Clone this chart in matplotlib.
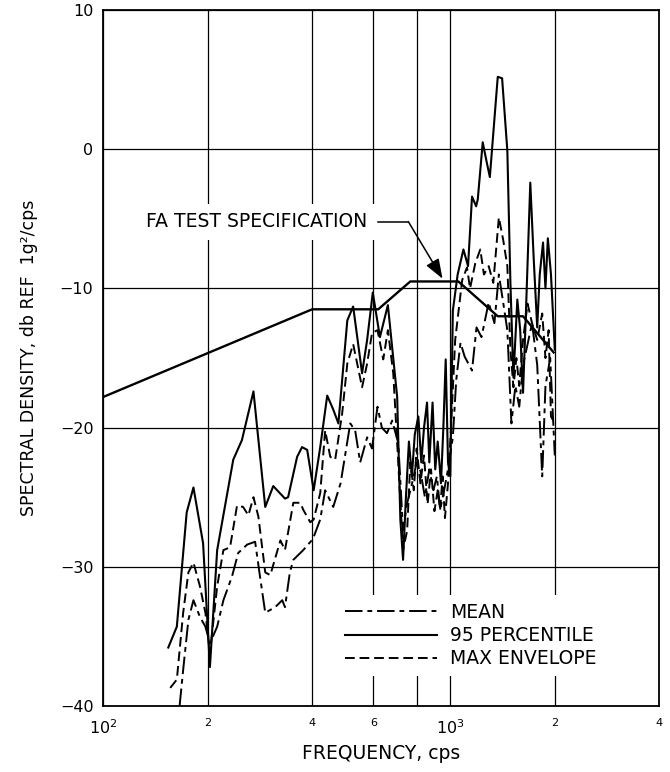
import matplotlib.pyplot as plt

# FA test specification (straight segments)
spec_freq = [100, 400, 620, 767, 1055, 1370, 1620, 1985]
spec_db = [-17.8, -11.5, -11.5, -9.5, -9.5, -12.0, -12.0, -14.6]

# 95 percentile
p95_freq = [154, 163, 174, 182, 194, 203, 213, 237, 251, 271, 293, 309, 334, 341,
            362, 374, 387, 404, 422, 442, 460, 476, 505, 525, 557, 576, 598, 627,
            661, 703, 718, 731, 745, 760, 775, 790, 809, 825, 840, 857, 870, 889,
            905, 920, 940, 955, 970, 985, 1000, 1017, 1050, 1091, 1125, 1155, 1187,
            1200, 1240, 1270, 1300, 1370, 1410, 1460, 1490, 1520, 1560, 1590, 1620,
            1650, 1700, 1740, 1780, 1810, 1850, 1880, 1910, 1950, 2000]
p95_db = [-35.8, -34.3, -26.1, -24.3, -28.3, -37.2, -28.8, -22.3, -20.9, -17.4, -25.7,
          -24.2, -25.1, -25.0, -22.1, -21.4, -21.6, -24.5, -21.4, -17.7, -18.7, -19.7,
          -12.3, -11.3, -16.1, -13.7, -10.3, -13.5, -11.2, -17.8, -26.6, -29.5, -25.0,
          -21.0, -23.5, -20.5, -19.2, -22.5, -20.0, -18.2, -22.5, -18.2, -23.0, -21.0,
          -24.0, -20.0, -15.1, -22.5, -23.5, -11.6, -9.0, -7.2, -8.4, -3.4, -4.1, -3.6,
          0.5, -0.8, -2.0, 5.2, 5.1, -0.1, -9.6, -16.4, -10.8, -13.0, -17.5, -12.0,
          -2.4, -8.0, -12.8, -9.0, -6.7, -10.0, -6.4, -9.0, -14.4]

# max envelope
max_freq = [156, 163, 170, 176, 182, 190, 197, 203, 213, 222, 232, 243, 253, 262, 271,
            280, 293, 303, 324, 334, 353, 370, 377, 395, 404, 422, 436, 451, 466, 488,
            505, 525, 557, 576, 595, 617, 641, 661, 685, 708, 731, 751, 767, 785, 800,
            820, 840, 860, 880, 900, 920, 935, 950, 965, 985, 1000, 1033, 1082, 1117,
            1140, 1180, 1220, 1250, 1290, 1330, 1380, 1420, 1460, 1490, 1520, 1550,
            1580, 1620, 1670, 1720, 1780, 1840, 1880, 1920, 1950, 2000]
max_db = [-38.7, -38.1, -33.3, -30.4, -29.7, -31.4, -33.3, -36.2, -31.4, -28.8, -28.6,
          -25.6, -25.7, -26.3, -25.0, -26.4, -30.4, -30.6, -28.1, -28.8, -25.4, -25.4,
          -25.9, -26.8, -26.6, -24.7, -20.2, -22.1, -22.3, -19.0, -15.4, -14.0, -17.1,
          -15.4, -13.2, -13.0, -15.1, -13.0, -16.1, -22.5, -28.8, -27.4, -22.5, -24.5,
          -21.5, -24.0, -22.0, -25.5, -23.0, -26.0, -24.5, -25.9, -23.5, -26.5, -24.0,
          -21.0, -13.7, -9.4, -8.5, -10.0, -8.2, -7.2, -9.0, -8.4, -9.6, -4.9, -6.5,
          -8.4, -14.4, -17.1, -15.0, -17.0, -13.7, -11.1, -12.5, -13.7, -11.8, -15.0,
          -13.0, -19.2, -19.7]

# mean
mean_freq = [166, 170, 176, 182, 190, 197, 203, 213, 222, 235, 245, 260, 274, 283, 293,
             313, 328, 334, 345, 353, 377, 402, 422, 436, 460, 483, 515, 532, 550, 576,
             595, 617, 635, 657, 680, 708, 731, 750, 776, 800, 820, 845, 870, 894, 915,
             935, 960, 980, 1017, 1040, 1070, 1100, 1155, 1190, 1230, 1290, 1340, 1380,
             1420, 1460, 1500, 1540, 1580, 1620, 1670, 1720, 1780, 1840, 1880, 1940, 2000]
mean_db = [-40.0, -37.4, -33.8, -32.4, -33.6, -34.3, -35.5, -34.3, -32.4, -30.7, -29.0,
           -28.4, -28.2, -30.7, -33.3, -32.9, -32.4, -32.9, -30.4, -29.5, -28.8, -28.0,
           -26.6, -24.5, -25.7, -24.0, -19.7, -20.2, -22.5, -20.7, -21.5, -18.5, -20.0,
           -20.4, -19.5, -21.1, -27.4, -25.5, -24.0, -22.5, -23.1, -25.0, -23.0, -24.5,
           -23.5, -25.9, -24.5, -23.3, -20.7, -16.6, -13.9, -14.9, -15.9, -12.8, -13.5,
           -11.0, -12.5, -9.0, -11.0, -13.0, -19.7, -17.0, -18.5, -15.5, -14.0, -12.5,
           -15.5, -23.5, -17.0, -15.0, -22.0]

xtick_pos = [100, 200, 400, 600, 800, 1000, 2000, 4000]
xtick_lab = ['10$^2$', '2', '4', '6', '', '10$^3$', '2', '4']
ytick_pos = [-40, -30, -20, -10, 0, 10]

fig = plt.figure(figsize=(6.7, 7.72), dpi=100)
ax = fig.add_axes([0.154, 0.0855, 0.830, 0.9015])

ax.set_xscale('log')
ax.set_xlim(100, 4000)
ax.set_ylim(-40, 10)

ax.plot(spec_freq, spec_db, color='black', lw=1.7, zorder=3)
ax.plot(mean_freq, mean_db, color='black', lw=1.4, ls=(0, (9, 2.5, 2.5, 2.5)),
        label='MEAN', zorder=3)
ax.plot(p95_freq, p95_db, color='black', lw=1.5, label='95 PERCENTILE', zorder=3)
ax.plot(max_freq, max_db, color='black', lw=1.4, ls=(0, (5, 2.5)),
        label='MAX ENVELOPE', zorder=3)

# ticks and grid
ax.set_xticks(xtick_pos)
ax.set_xticklabels(xtick_lab)
ax.minorticks_off()
ax.set_yticks(ytick_pos)
ax.set_yticklabels([str(v).replace('-', '\u2212') for v in ytick_pos])
ax.tick_params(length=0, labelsize=11.5)
ax.tick_params(axis='x', pad=9)
ax.tick_params(axis='y', pad=7)
for lab in ax.get_xticklabels():
    if lab.get_text() in ('2', '4', '6'):
        lab.set_fontsize(8)
    else:
        lab.set_fontsize(11.5)
ax.grid(True, color='black', lw=0.9, zorder=1)
for sp in ax.spines.values():
    sp.set_linewidth(1.3)

# annotation for the spec line
ax.text(576, -5.2, 'FA TEST SPECIFICATION', ha='right', va='center', fontsize=13.5,
        bbox=dict(boxstyle='square,pad=0.45', fc='white', ec='none'), zorder=2)
ax.plot([617, 757], [-5.2, -5.2], color='black', lw=1.1, zorder=3)
ax.annotate('', xy=(950, -9.3), xytext=(757, -5.2),
            arrowprops=dict(arrowstyle='-|>,head_length=0.6,head_width=0.22',
                            mutation_scale=20, color='black', lw=1.1,
                            shrinkA=0, shrinkB=0), zorder=3)

leg = ax.legend(loc='lower left', bbox_to_anchor=(0.405, 0.03), fontsize=13.5,
                handlelength=4.9, handletextpad=0.7, labelspacing=0.22,
                frameon=True, fancybox=False, framealpha=1, borderpad=0.4)
leg.get_frame().set_facecolor('white')
leg.get_frame().set_edgecolor('none')
leg.set_zorder(5)

ax.set_xlabel('FREQUENCY, cps', fontsize=13.5)
ax.set_ylabel('SPECTRAL DENSITY, db REF  1g\u00b2/cps', fontsize=12.5)
ax.xaxis.set_label_coords(0.5, -0.055)
ax.yaxis.set_label_coords(-0.118, 0.5)

plt.savefig('out.png', dpi=100)
